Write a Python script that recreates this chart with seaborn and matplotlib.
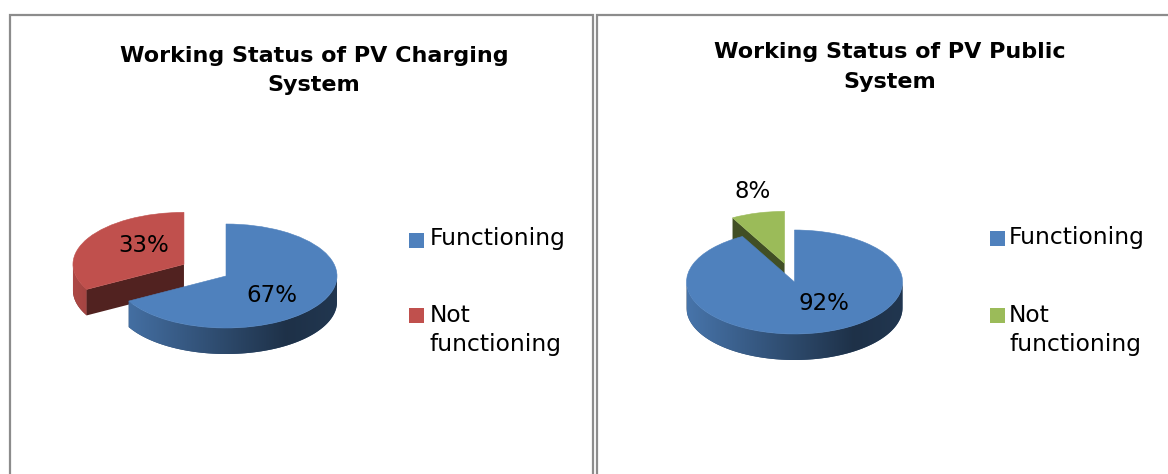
import numpy as np
import matplotlib
matplotlib.use("Agg")
import matplotlib.pyplot as plt
import seaborn as sns
from matplotlib.patches import Polygon, Rectangle
from matplotlib.colors import to_rgb

# ---------------- data ----------------
categories = ["Functioning", "Not functioning"]
legend_labels = ["Functioning", "Not\nfunctioning"]
charging_values = [67, 33]
public_values = [92, 8]
charging_title = ["Working Status of PV Charging", "System"]
public_title = ["Working Status of PV Public", "System"]
charging_colors = ["#4F81BD", "#C0504D"]
public_colors = ["#4F81BD", "#9BBB59"]
charging_explode = [0, 0.44]
public_explode = [0, 0.37]

# ---------------- style ----------------
sns.set_theme(style="white")
plt.rcParams["font.family"] = ["DejaVu Sans"]

W, H = 1168, 474
fig = plt.figure(figsize=(W / 100, H / 100), dpi=100)
fig.patch.set_facecolor("white")

bg = fig.add_axes([0, 0, 1, 1], zorder=0)
bg.set_xlim(0, W)
bg.set_ylim(H, 0)
bg.axis("off")

border = "#8C8C8C"
for x0, x1 in [(10, 592.5), (597, W + 5)]:
    bg.plot([x0, x0, x1, x1], [H + 5, 15, 15, H + 5], color=border, lw=1.6,
            solid_joinstyle="miter")


def side_factor(x):
    return np.interp(x, [-1, 0.55, 1], [0.9, 0.38, 0.42])


def visible_intervals(t1, t2):
    out = []
    for k in range(-2, 3):
        lo, hi = 180 + 360 * k, 360 + 360 * k
        s, e = max(t1, lo), min(t2, hi)
        if e > s:
            out.append((s, e))
    return out


def draw_pie3d(cx, cy, a, b, depth, values, colors, explode, label_offsets):
    Rx, Ry = 170, 130
    ax = fig.add_axes([(cx - Rx) / W, (H - cy - Ry) / H, 2 * Rx / W, 2 * Ry / H],
                      zorder=2)
    wedges, texts, autotexts = ax.pie(
        values, colors=colors, explode=explode, startangle=90,
        counterclock=False, autopct="%d%%",
        textprops=dict(fontsize=16.5, color="black"))
    d = depth / b
    order = sorted(range(len(wedges)), key=lambda i: -(
        wedges[i].center[1]
        + 0.5 * np.sin(np.radians(0.5 * (wedges[i].theta1 + wedges[i].theta2)))))
    for rank, i in enumerate(order):
        w = wedges[i]
        z = 2 + 3 * rank
        x0, y0 = w.center
        t1, t2 = w.theta1, w.theta2
        col = np.array(to_rgb(w.get_facecolor()))
        # outer rim (visible front part) with horizontal shading
        for s, e in visible_intervals(t1, t2):
            ts = np.radians(np.linspace(s, e, 120))
            top = np.column_stack([x0 + np.cos(ts), y0 + np.sin(ts)])
            bot = np.column_stack([x0 + np.cos(ts), y0 + np.sin(ts) - d])
            poly = Polygon(np.vstack([top, bot[::-1]]), closed=True,
                           facecolor=col * 0.6, edgecolor="none", zorder=z)
            ax.add_patch(poly)
            xs = np.linspace(-1, 1, 300)
            img = np.clip(col[None, None, :] * side_factor(xs)[None, :, None], 0, 1)
            im = ax.imshow(img, extent=(x0 - 1, x0 + 1, y0 - 1 - d, y0 + 1),
                           aspect="auto", interpolation="bilinear", zorder=z + 0.5)
            im.set_clip_path(poly)
        # radial cut faces
        for t, vis in [(t1, np.cos(np.radians(t1)) > 1e-6),
                       (t2, np.cos(np.radians(t2)) < -1e-6)]:
            if vis:
                tr = np.radians(t)
                px, py = x0 + np.cos(tr), y0 + np.sin(tr)
                quad = [(x0, y0), (px, py), (px, py - d), (x0, y0 - d)]
                ax.add_patch(Polygon(quad, closed=True, facecolor=col * 0.42,
                                     edgecolor="none", zorder=z + 0.7))
        w.set_zorder(z + 1)
        w.set_edgecolor(w.get_facecolor())
        w.set_linewidth(0.4)
    for t, (dx, dy) in zip(autotexts, label_offsets):
        t.set_position((dx / a, dy / b))
        t.set_ha("center")
        t.set_va("center")
        t.set_zorder(20)
    ax.set_xlim(-Rx / a, Rx / a)
    ax.set_ylim(-Ry / b, Ry / b)
    ax.set_aspect("auto")
    ax.axis("off")
    return ax


draw_pie3d(226, 276, 111, 52, 26, charging_values, charging_colors,
           charging_explode, [(46, -19), (-82, 30)])
draw_pie3d(794.5, 282, 108, 52, 26, public_values, public_colors,
           public_explode, [(29.5, -21), (-41.5, 91)])

# titles
for (xc, ys), lines in [((314, (62, 91)), charging_title),
                        ((890, (58, 88)), public_title)]:
    for y, line in zip(ys, lines):
        bg.text(xc, y, line, ha="center", va="baseline", fontsize=16,
                fontweight="bold", color="black")

# legends
for (sx, tx, sq_tops, baselines), cols in [
        ((409, 430, (233, 307.5), (245, 321.7)), charging_colors),
        ((990, 1009, (230.5, 307.5), (244, 322.5)), public_colors)]:
    for lab, col, st, bl in zip(legend_labels, cols, sq_tops, baselines):
        bg.add_patch(Rectangle((sx, st), 15, 15, facecolor=col, edgecolor="none"))
        for j, line in enumerate(lab.split("\n")):
            bg.text(tx, bl + 29 * j, line, ha="left", va="baseline",
                    fontsize=16.8, color="black")

fig.savefig("out.png", dpi=100, facecolor="white")
